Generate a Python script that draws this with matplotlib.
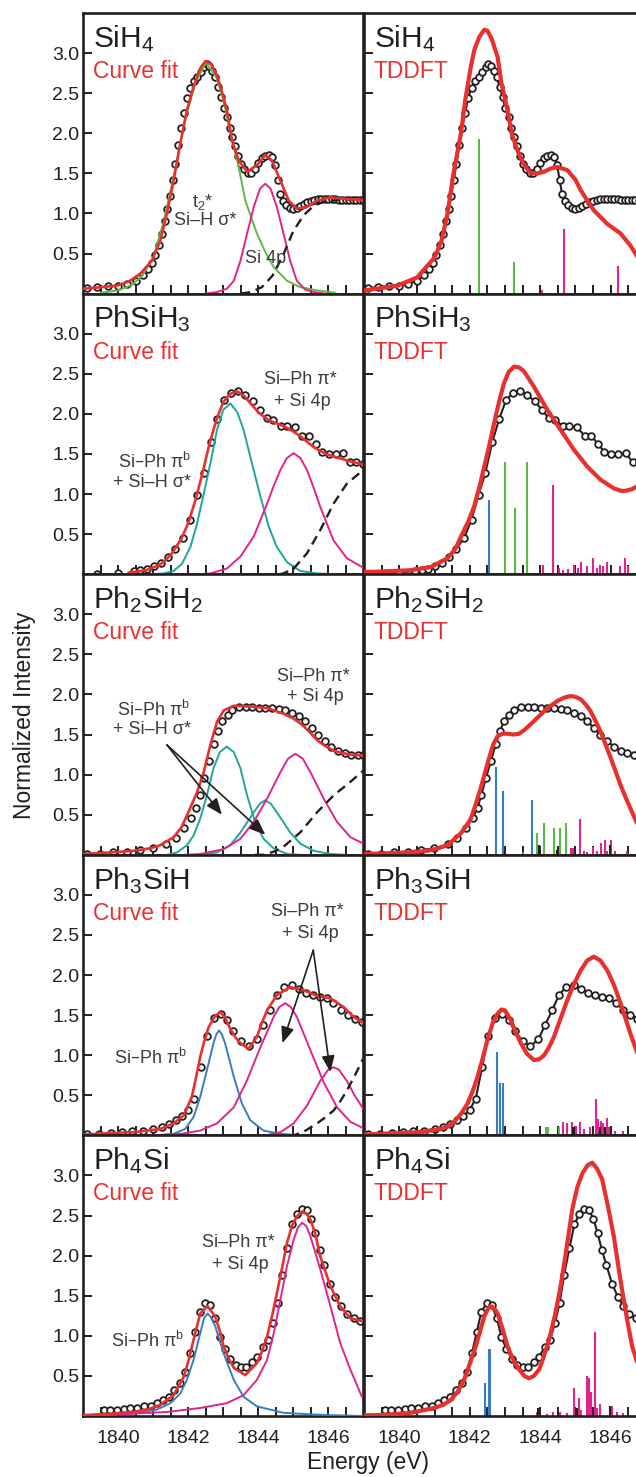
import matplotlib
matplotlib.use("Agg")
import matplotlib.pyplot as plt

plt.rcParams['font.family'] = ['Liberation Sans', 'DejaVu Sans']
plt.rcParams['mathtext.default'] = 'regular'

# ---------------- data ----------------
MOLECULES = ["SiH$_4$", "PhSiH$_3$", "Ph$_2$SiH$_2$", "Ph$_3$SiH", "Ph$_4$Si"]
X_TICKS = [1840, 1842, 1844, 1846]
Y_TICKS = [0.5, 1.0, 1.5, 2.0, 2.5, 3.0]

# experimental spectra (open circles)
SIH4_EXP_E = [1839.1, 1839.4, 1839.7, 1840.0, 1840.25, 1840.5, 1840.7, 1840.85, 1840.95, 1841.05,
              1841.15, 1841.25, 1841.33, 1841.40, 1841.47, 1841.55, 1841.62, 1841.70, 1841.78, 1841.87,
              1841.95, 1842.05, 1842.15, 1842.25, 1842.35, 1842.45, 1842.52, 1842.60, 1842.68, 1842.76,
              1842.85, 1842.93, 1843.01, 1843.10, 1843.18, 1843.26, 1843.34, 1843.42, 1843.50, 1843.60,
              1843.70, 1843.80, 1843.90, 1844.00, 1844.10, 1844.20, 1844.30, 1844.40, 1844.48, 1844.55,
              1844.62, 1844.70, 1844.80, 1844.90, 1845.00, 1845.10, 1845.20, 1845.30, 1845.40, 1845.50,
              1845.60, 1845.70, 1845.80, 1845.90, 1846.00, 1846.10, 1846.20, 1846.30, 1846.40, 1846.50,
              1846.60, 1846.70, 1846.80, 1846.90, 1847.00]
SIH4_EXP_I = [0.07, 0.08, 0.09, 0.10, 0.12, 0.16, 0.23, 0.31, 0.38, 0.48,
              0.60, 0.74, 0.90, 1.06, 1.22, 1.42, 1.62, 1.85, 2.06, 2.25,
              2.44, 2.57, 2.65, 2.70, 2.77, 2.83, 2.86, 2.84, 2.78, 2.70,
              2.58, 2.45, 2.31, 2.20, 2.07, 1.95, 1.84, 1.72, 1.62, 1.55,
              1.51, 1.50, 1.55, 1.63, 1.69, 1.72, 1.73, 1.70, 1.60, 1.42,
              1.24, 1.15, 1.10, 1.07, 1.06, 1.07, 1.09, 1.12, 1.14, 1.16,
              1.17, 1.18, 1.18, 1.18, 1.18, 1.18, 1.18, 1.17, 1.17, 1.17,
              1.17, 1.17, 1.17, 1.17, 1.17]

PHSIH3_EXP_E = [1839.4, 1840.0, 1840.45, 1840.63, 1840.82, 1841.02, 1841.22, 1841.42, 1841.62, 1841.84,
                1842.05, 1842.25, 1842.44, 1842.64, 1842.83, 1843.03, 1843.22, 1843.42, 1843.63, 1843.85,
                1844.04, 1844.24, 1844.43, 1844.64, 1844.82, 1845.04, 1845.26, 1845.45, 1845.64, 1845.82,
                1846.02, 1846.22, 1846.43, 1846.62, 1846.80, 1847.0]
PHSIH3_EXP_I = [0.00, 0.02, 0.04, 0.05, 0.06, 0.10, 0.14, 0.22, 0.32, 0.45,
                0.68, 0.99, 1.26, 1.65, 1.93, 2.17, 2.26, 2.29, 2.23, 2.16,
                2.05, 1.95, 1.92, 1.85, 1.85, 1.83, 1.73, 1.73, 1.62, 1.53,
                1.50, 1.50, 1.51, 1.40, 1.40, 1.37]

PH2SIH2_EXP_E = [1839.1, 1839.48, 1839.86, 1840.24, 1840.61, 1840.99, 1841.37, 1841.65, 1841.89, 1842.08,
                 1842.22, 1842.33, 1842.46, 1842.60, 1842.74, 1842.86, 1842.97, 1843.12, 1843.26, 1843.45,
                 1843.64, 1843.82, 1844.01, 1844.20, 1844.39, 1844.58, 1844.77, 1844.96, 1845.15, 1845.34,
                 1845.52, 1845.71, 1845.90, 1846.09, 1846.28, 1846.47, 1846.66, 1846.85, 1847.0]
PH2SIH2_EXP_I = [0.01, 0.01, 0.03, 0.04, 0.06, 0.08, 0.13, 0.21, 0.33, 0.46,
                 0.58, 0.75, 0.96, 1.17, 1.38, 1.54, 1.67, 1.75, 1.81, 1.84,
                 1.84, 1.84, 1.83, 1.83, 1.83, 1.82, 1.80, 1.77, 1.73, 1.67,
                 1.58, 1.50, 1.42, 1.35, 1.30, 1.27, 1.25, 1.24, 1.24]

PH3SIH_EXP_E = [1839.1, 1839.45, 1839.8, 1840.1, 1840.4, 1840.7, 1841.0, 1841.25, 1841.45, 1841.65,
                1841.82, 1842.0, 1842.17, 1842.35, 1842.52, 1842.72, 1842.92, 1843.1, 1843.28, 1843.5,
                1843.72, 1843.95, 1844.14, 1844.34, 1844.53, 1844.73, 1844.96, 1845.15, 1845.36, 1845.56,
                1845.75, 1845.95, 1846.14, 1846.35, 1846.55, 1846.75, 1846.97]
PH3SIH_EXP_I = [0.02, 0.02, 0.03, 0.04, 0.05, 0.06, 0.08, 0.10, 0.14, 0.19,
                0.24, 0.32, 0.46, 0.85, 1.24, 1.46, 1.52, 1.44, 1.30, 1.18,
                1.11, 1.20, 1.38, 1.56, 1.75, 1.85, 1.87, 1.83, 1.78, 1.75,
                1.73, 1.71, 1.65, 1.57, 1.50, 1.45, 1.42]

PH4SI_EXP_E = [1839.58, 1839.77, 1839.96, 1840.15, 1840.34, 1840.53, 1840.72, 1840.92, 1841.10, 1841.28,
               1841.44, 1841.60, 1841.77, 1841.91, 1842.06, 1842.20, 1842.33, 1842.48, 1842.62, 1842.77,
               1842.90, 1843.04, 1843.20, 1843.35, 1843.50, 1843.66, 1843.82, 1843.97, 1844.13, 1844.28,
               1844.42, 1844.55, 1844.68, 1844.83, 1844.97, 1845.11, 1845.25, 1845.38, 1845.51, 1845.63,
               1845.75, 1845.88, 1846.04, 1846.20, 1846.36, 1846.53, 1846.72, 1846.91]
PH4SI_EXP_I = [0.07, 0.075, 0.08, 0.09, 0.10, 0.10, 0.12, 0.13, 0.16, 0.20,
               0.24, 0.32, 0.41, 0.55, 0.78, 1.05, 1.30, 1.41, 1.38, 1.22,
               0.98, 0.84, 0.71, 0.64, 0.61, 0.61, 0.67, 0.74, 0.86, 0.95,
               1.16, 1.41, 1.76, 2.10, 2.39, 2.52, 2.58, 2.57, 2.46, 2.28,
               2.07, 1.88, 1.65, 1.49, 1.37, 1.27, 1.22, 1.19]

# curve fits (left column, red)
SIH4_FIT_E = [1839.0, 1839.5, 1839.96, 1840.3, 1840.63, 1840.96, 1841.2, 1841.39, 1841.58, 1841.77,
              1841.96, 1842.15, 1842.34, 1842.49, 1842.65, 1842.82, 1842.96, 1843.1, 1843.25, 1843.44,
              1843.68, 1843.96, 1844.2, 1844.39, 1844.63, 1844.87, 1845.1, 1845.39, 1845.68, 1846.06,
              1846.5, 1847.0]
SIH4_FIT_I = [0.06, 0.08, 0.10, 0.15, 0.25, 0.41, 0.66, 1.00, 1.41, 1.87,
              2.29, 2.58, 2.81, 2.90, 2.86, 2.72, 2.52, 2.29, 1.91, 1.66,
              1.52, 1.60, 1.73, 1.66, 1.41, 1.16, 1.06, 1.08, 1.16, 1.20,
              1.18, 1.17]

PHSIH3_FIT_E = [1840.3, 1840.8, 1841.2, 1841.5, 1841.8, 1842.0, 1842.2, 1842.4, 1842.6, 1842.8,
                1843.0, 1843.2, 1843.4, 1843.6, 1843.8, 1844.0, 1844.2, 1844.4, 1844.6, 1844.8,
                1845.0, 1845.2, 1845.4, 1845.6, 1845.8, 1846.0, 1846.3, 1846.6, 1847.0]
PHSIH3_FIT_I = [0.02, 0.05, 0.12, 0.24, 0.44, 0.64, 0.92, 1.25, 1.62, 1.92,
                2.15, 2.25, 2.28, 2.22, 2.12, 2.02, 1.95, 1.90, 1.87, 1.83,
                1.78, 1.72, 1.65, 1.58, 1.53, 1.49, 1.45, 1.41, 1.37]

PH2SIH2_FIT_E = [1839.0, 1839.8, 1840.44, 1840.9, 1841.2, 1841.58, 1841.8, 1841.96, 1842.1, 1842.25,
                 1842.44, 1842.63, 1842.82, 1843.01, 1843.3, 1843.77, 1844.25, 1844.72, 1845.0, 1845.2,
                 1845.45, 1845.68, 1845.9, 1846.15, 1846.4, 1846.63, 1847.0]
PH2SIH2_FIT_I = [0.01, 0.03, 0.05, 0.08, 0.12, 0.22, 0.34, 0.49, 0.63, 0.78,
                 1.03, 1.37, 1.66, 1.80, 1.86, 1.85, 1.83, 1.76, 1.70, 1.64,
                 1.54, 1.43, 1.36, 1.30, 1.27, 1.25, 1.24]

PH3SIH_FIT_E = [1839.0, 1839.8, 1840.44, 1841.2, 1841.58, 1841.87, 1842.1, 1842.22, 1842.34, 1842.46,
                1842.58, 1842.75, 1842.91, 1843.05, 1843.2, 1843.35, 1843.49, 1843.72, 1843.96, 1844.1,
                1844.25, 1844.53, 1844.91, 1845.3, 1845.68, 1846.06, 1846.44, 1846.72, 1847.0]
PH3SIH_FIT_I = [0.01, 0.03, 0.04, 0.08, 0.15, 0.25, 0.48, 0.72, 0.98, 1.18,
                1.35, 1.48, 1.54, 1.47, 1.33, 1.22, 1.15, 1.08, 1.23, 1.40,
                1.56, 1.75, 1.85, 1.81, 1.74, 1.71, 1.60, 1.48, 1.40]

PH4SI_FIT_E = [1839.0, 1839.8, 1840.44, 1840.9, 1841.2, 1841.58, 1841.87, 1842.0, 1842.15, 1842.34,
               1842.55, 1842.77, 1842.9, 1843.01, 1843.15, 1843.3, 1843.63, 1843.96, 1844.1, 1844.25,
               1844.4, 1844.53, 1844.68, 1844.82, 1844.96, 1845.1, 1845.25, 1845.38, 1845.49, 1845.63,
               1845.77, 1845.92, 1846.06, 1846.34, 1846.63, 1847.0]
PH4SI_FIT_I = [0.01, 0.03, 0.05, 0.09, 0.14, 0.26, 0.49, 0.68, 0.95, 1.28,
               1.37, 1.24, 1.06, 0.87, 0.72, 0.60, 0.51, 0.66, 0.80, 0.99,
               1.26, 1.53, 1.85, 2.16, 2.37, 2.49, 2.55, 2.52, 2.45, 2.27,
               1.99, 1.80, 1.62, 1.37, 1.22, 1.18]

# fit components
SIH4_GREEN_E = [1839.5, 1840.0, 1840.4, 1840.7, 1841.0, 1841.3, 1841.6, 1841.9, 1842.2, 1842.5,
                1842.8, 1843.0, 1843.25, 1843.44, 1843.63, 1843.96, 1844.2, 1844.44, 1844.82, 1845.2,
                1845.68, 1846.2]
SIH4_GREEN_I = [0.01, 0.04, 0.11, 0.23, 0.45, 0.90, 1.50, 2.15, 2.63, 2.88,
                2.70, 2.42, 1.91, 1.58, 1.16, 0.75, 0.52, 0.33, 0.16, 0.08,
                0.04, 0.01]
SIH4_MAG_E = [1842.5, 1842.82, 1843.1, 1843.3, 1843.49, 1843.68, 1843.87, 1844.05, 1844.2, 1844.35,
              1844.53, 1844.72, 1844.91, 1845.1, 1845.34, 1845.58, 1845.9]
SIH4_MAG_I = [0.0, 0.02, 0.06, 0.16, 0.41, 0.75, 1.08, 1.31, 1.37, 1.31,
              1.08, 0.75, 0.41, 0.16, 0.05, 0.02, 0.0]
SIH4_STEP_E = [1843.5, 1843.8, 1844.1, 1844.4, 1844.7, 1845.0, 1845.3, 1845.6, 1845.9, 1846.3, 1847.0]
SIH4_STEP_I = [0.0, 0.02, 0.08, 0.22, 0.47, 0.78, 0.98, 1.10, 1.15, 1.17, 1.18]

PHSIH3_TEAL_E = [1841.0, 1841.3, 1841.58, 1841.82, 1842.06, 1842.25, 1842.44, 1842.63, 1842.82, 1843.0,
                 1843.2, 1843.4, 1843.58, 1843.82, 1844.06, 1844.3, 1844.53, 1844.82, 1845.2, 1845.68, 1846.2]
PHSIH3_TEAL_I = [0.0, 0.01, 0.04, 0.13, 0.34, 0.63, 1.00, 1.38, 1.80, 2.05,
                 2.13, 2.02, 1.80, 1.38, 0.97, 0.59, 0.34, 0.15, 0.04, 0.01, 0.0]
PHSIH3_MAG_E = [1842.3, 1842.63, 1843.1, 1843.49, 1843.87, 1844.25, 1844.44, 1844.63, 1844.82, 1845.01,
                1845.2, 1845.39, 1845.58, 1845.77, 1846.15, 1846.53, 1847.0]
PHSIH3_MAG_I = [0.0, 0.01, 0.07, 0.22, 0.47, 0.88, 1.10, 1.30, 1.45, 1.51,
                1.45, 1.30, 1.08, 0.84, 0.42, 0.20, 0.08]
PHSIH3_STEP_E = [1844.6, 1844.72, 1845.01, 1845.39, 1845.77, 1846.15, 1846.53, 1847.0]
PHSIH3_STEP_I = [0.0, 0.01, 0.07, 0.26, 0.55, 0.88, 1.13, 1.30]

PH2SIH2_TEAL1_E = [1841.4, 1841.68, 1841.96, 1842.15, 1842.34, 1842.53, 1842.72, 1842.9, 1843.1, 1843.3,
                   1843.49, 1843.68, 1843.91, 1844.15, 1844.44, 1844.82, 1845.2]
PH2SIH2_TEAL1_I = [0.0, 0.03, 0.12, 0.24, 0.45, 0.74, 1.08, 1.28, 1.35, 1.28,
                   1.08, 0.74, 0.41, 0.20, 0.08, 0.01, 0.0]
PH2SIH2_TEAL2_E = [1842.4, 1842.82, 1843.2, 1843.49, 1843.87, 1844.05, 1844.2, 1844.35, 1844.53, 1844.91,
                   1845.2, 1845.58, 1846.06, 1846.5]
PH2SIH2_TEAL2_I = [0.0, 0.03, 0.12, 0.28, 0.53, 0.64, 0.68, 0.64, 0.53, 0.28,
                   0.14, 0.05, 0.01, 0.0]
PH2SIH2_MAG_E = [1841.9, 1842.34, 1843.01, 1843.49, 1843.87, 1844.25, 1844.63, 1844.85, 1845.06, 1845.27,
                 1845.49, 1845.87, 1846.25, 1846.63, 1847.0]
PH2SIH2_MAG_I = [0.0, 0.01, 0.07, 0.20, 0.41, 0.70, 1.03, 1.20, 1.26, 1.20,
                 1.03, 0.70, 0.41, 0.22, 0.14]
PH2SIH2_STEP_E = [1843.9, 1844.15, 1844.45, 1844.72, 1845.2, 1845.68, 1846.15, 1846.63, 1847.0]
PH2SIH2_STEP_I = [0.0, 0.0, 0.04, 0.10, 0.28, 0.53, 0.74, 0.91, 1.05]

PH3SIH_BLUE_E = [1841.0, 1841.58, 1841.91, 1842.15, 1842.34, 1842.53, 1842.72, 1842.8, 1842.88, 1842.96,
                 1843.05, 1843.3, 1843.53, 1843.77, 1844.15, 1844.63, 1845.2]
PH3SIH_BLUE_I = [0.0, 0.02, 0.08, 0.23, 0.48, 0.81, 1.15, 1.26, 1.31, 1.26,
                 1.15, 0.73, 0.40, 0.19, 0.06, 0.02, 0.0]
PH3SIH_MAG1_E = [1841.0, 1841.8, 1842.34, 1842.82, 1843.3, 1843.68, 1844.06, 1844.44, 1844.6, 1844.77,
                 1844.93, 1845.1, 1845.49, 1845.87, 1846.25, 1846.63, 1847.0]
PH3SIH_MAG1_I = [0.0, 0.02, 0.06, 0.15, 0.35, 0.69, 1.10, 1.48, 1.60, 1.65,
                 1.60, 1.48, 1.06, 0.66, 0.35, 0.17, 0.09]
PH3SIH_MAG2_E = [1844.2, 1844.63, 1845.01, 1845.39, 1845.77, 1846.0, 1846.15, 1846.3, 1846.53, 1846.75, 1847.0]
PH3SIH_MAG2_I = [0.0, 0.04, 0.15, 0.37, 0.68, 0.82, 0.85, 0.82, 0.68, 0.50, 0.33]
PH3SIH_STEP_E = [1844.9, 1845.01, 1845.35, 1845.68, 1845.9, 1846.15, 1846.35, 1846.53, 1846.75, 1847.0]
PH3SIH_STEP_I = [0.0, 0.0, 0.06, 0.15, 0.22, 0.31, 0.43, 0.56, 0.74, 0.96]

PH4SI_BLUE_E = [1839.0, 1839.49, 1840.44, 1841.1, 1841.49, 1841.77, 1841.96, 1842.15, 1842.34, 1842.45,
                1842.55, 1842.65, 1842.77, 1843.01, 1843.3, 1843.58, 1843.96, 1844.72, 1845.5, 1846.15, 1847.0]
PH4SI_BLUE_I = [0.0, 0.01, 0.03, 0.08, 0.16, 0.28, 0.45, 0.70, 1.03, 1.22,
                1.28, 1.23, 1.12, 0.78, 0.45, 0.24, 0.12, 0.04, 0.02, 0.01, 0.0]
PH4SI_MAG_E = [1839.0, 1840.44, 1841.39, 1842.34, 1843.1, 1843.58, 1843.96, 1844.25, 1844.44, 1844.63,
               1844.82, 1845.01, 1845.13, 1845.25, 1845.37, 1845.49, 1845.77, 1846.06, 1846.34, 1846.63, 1846.96]
PH4SI_MAG_I = [0.01, 0.03, 0.05, 0.10, 0.16, 0.26, 0.45, 0.70, 1.03, 1.45,
               1.87, 2.20, 2.35, 2.41, 2.37, 2.24, 1.83, 1.37, 0.91, 0.58, 0.24]

# TDDFT spectra (right column, red)
SIH4_TD_E = [1839.0, 1839.5, 1839.95, 1840.5, 1841.0, 1841.2, 1841.37, 1841.53, 1841.75, 1841.87,
             1842.03, 1842.13, 1842.27, 1842.41, 1842.5, 1842.62, 1842.79, 1842.9, 1843.07, 1843.19,
             1843.35, 1843.52, 1843.73, 1843.92, 1844.11, 1844.3, 1844.49, 1844.77, 1845.0, 1845.15,
             1845.35, 1845.52, 1845.9, 1846.28, 1846.56, 1846.73, 1847.0]
SIH4_TD_I = [0.04, 0.07, 0.10, 0.20, 0.45, 0.66, 1.00, 1.48, 2.00, 2.41,
             2.83, 3.04, 3.20, 3.29, 3.28, 3.18, 2.95, 2.62, 2.29, 2.00,
             1.79, 1.62, 1.50, 1.50, 1.52, 1.56, 1.58, 1.54, 1.42, 1.29,
             1.15, 1.04, 0.87, 0.75, 0.60, 0.48, 0.30]

PHSIH3_TD_E = [1839.0, 1839.29, 1839.8, 1840.33, 1840.9, 1841.37, 1841.6, 1841.75, 1841.95, 1842.12,
               1842.27, 1842.41, 1842.55, 1842.69, 1842.83, 1842.97, 1843.1, 1843.26, 1843.4, 1843.54,
               1843.82, 1844.2, 1844.58, 1844.96, 1845.34, 1845.71, 1846.09, 1846.3, 1846.42, 1846.6,
               1846.73, 1847.0]
PHSIH3_TD_I = [0.03, 0.03, 0.04, 0.05, 0.09, 0.20, 0.32, 0.47, 0.65, 0.84,
               1.08, 1.34, 1.60, 1.88, 2.15, 2.38, 2.52, 2.59, 2.58, 2.53,
               2.34, 2.05, 1.80, 1.55, 1.34, 1.18, 1.07, 1.04, 1.04, 1.06,
               1.09, 1.20]

PH2SIH2_TD_E = [1839.0, 1839.67, 1840.3, 1840.8, 1841.1, 1841.37, 1841.6, 1841.75, 1841.9, 1842.03,
                1842.17, 1842.31, 1842.43, 1842.55, 1842.67, 1842.79, 1842.93, 1843.07, 1843.25, 1843.4,
                1843.56, 1843.73, 1843.92, 1844.11, 1844.3, 1844.49, 1844.68, 1844.86, 1845.0, 1845.15,
                1845.3, 1845.43, 1845.57, 1845.71, 1845.85, 1846.0, 1846.14, 1846.28, 1846.42, 1846.56,
                1846.73, 1847.0]
PH2SIH2_TD_I = [0.01, 0.02, 0.03, 0.05, 0.08, 0.12, 0.21, 0.27, 0.36, 0.45,
                0.63, 0.83, 1.02, 1.21, 1.38, 1.48, 1.51, 1.51, 1.50, 1.51,
                1.56, 1.63, 1.71, 1.79, 1.86, 1.92, 1.96, 1.98, 1.97, 1.94,
                1.87, 1.79, 1.67, 1.54, 1.38, 1.21, 1.04, 0.87, 0.72, 0.58,
                0.41, 0.25]

PH3SIH_TD_E = [1839.0, 1839.48, 1840.0, 1840.61, 1841.18, 1841.4, 1841.56, 1841.75, 1841.94, 1842.08,
               1842.22, 1842.36, 1842.5, 1842.65, 1842.79, 1842.9, 1843.0, 1843.16, 1843.3, 1843.45,
               1843.62, 1843.82, 1843.97, 1844.11, 1844.25, 1844.39, 1844.58, 1844.77, 1844.96, 1845.15,
               1845.33, 1845.52, 1845.71, 1845.9, 1846.09, 1846.28, 1846.42, 1846.56, 1846.73, 1847.0]
PH3SIH_TD_I = [0.01, 0.02, 0.03, 0.04, 0.08, 0.12, 0.17, 0.27, 0.40, 0.55,
               0.73, 0.95, 1.19, 1.40, 1.52, 1.57, 1.56, 1.44, 1.29, 1.15,
               1.02, 0.94, 0.95, 1.00, 1.10, 1.23, 1.46, 1.69, 1.89, 2.06,
               2.18, 2.23, 2.18, 2.06, 1.88, 1.65, 1.46, 1.27, 1.06, 0.75]

PH4SI_TD_E = [1839.0, 1839.29, 1839.8, 1840.33, 1840.99, 1841.25, 1841.46, 1841.65, 1841.84, 1842.0,
              1842.17, 1842.3, 1842.41, 1842.52, 1842.6, 1842.7, 1842.79, 1842.93, 1843.07, 1843.23,
              1843.4, 1843.55, 1843.68, 1843.82, 1843.97, 1844.1, 1844.25, 1844.42, 1844.58, 1844.75,
              1844.91, 1845.05, 1845.2, 1845.35, 1845.48, 1845.62, 1845.76, 1845.92, 1846.09, 1846.23,
              1846.37, 1846.5, 1846.61, 1846.73, 1847.0]
PH4SI_TD_I = [0.01, 0.01, 0.02, 0.04, 0.10, 0.14, 0.20, 0.30, 0.45, 0.65,
              0.87, 1.07, 1.24, 1.34, 1.37, 1.34, 1.28, 1.09, 0.87, 0.70,
              0.58, 0.50, 0.47, 0.50, 0.58, 0.74, 0.95, 1.26, 1.62, 2.10,
              2.58, 2.85, 3.03, 3.13, 3.16, 3.08, 2.95, 2.62, 2.24, 1.83,
              1.45, 1.12, 0.87, 0.70, 0.40]

# TDDFT transitions (sticks)
SIH4_STK_GREEN_E = [1842.27, 1843.25]
SIH4_STK_GREEN_H = [1.93, 0.40]
SIH4_STK_MAG_E = [1844.04, 1844.68, 1846.22]
SIH4_STK_MAG_H = [0.04, 0.81, 0.34]

PHSIH3_STK_BLUE_E = [1842.55]
PHSIH3_STK_BLUE_H = [0.93]
PHSIH3_STK_GREEN_E = [1843.00, 1843.28, 1843.62]
PHSIH3_STK_GREEN_H = [1.40, 0.82, 1.40]
PHSIH3_STK_MAG_E = [1844.07, 1844.35, 1844.54, 1844.65, 1844.80, 1844.97, 1845.08, 1845.15, 1845.32,
                    1845.51, 1845.60, 1845.70, 1845.79, 1845.89, 1846.27, 1846.41, 1846.50]
PHSIH3_STK_MAG_H = [0.11, 1.11, 0.08, 0.05, 0.07, 0.12, 0.08, 0.15, 0.10,
                    0.20, 0.08, 0.12, 0.10, 0.15, 0.10, 0.20, 0.10]

PH2SIH2_STK_BLUE_E = [1842.74, 1842.93, 1843.52, 1843.77]
PH2SIH2_STK_BLUE_H = [1.10, 0.80, 0.04, 0.68]
PH2SIH2_STK_GREEN_E = [1843.90, 1844.11, 1844.40, 1844.56, 1844.73]
PH2SIH2_STK_GREEN_H = [0.27, 0.40, 0.33, 0.33, 0.40]
PH2SIH2_STK_BLACK_E = [1843.97, 1844.47, 1845.97]
PH2SIH2_STK_BLACK_H = [0.12, 0.06, 0.12]
PH2SIH2_STK_MAG_E = [1844.86, 1844.94, 1845.13, 1845.24, 1845.32, 1845.51, 1845.62, 1845.72, 1845.84,
                     1845.90, 1846.00, 1846.12, 1846.45]
PH2SIH2_STK_MAG_H = [0.08, 0.09, 0.45, 0.05, 0.03, 0.10, 0.05, 0.15, 0.18,
                     0.05, 0.18, 0.05, 0.05]

PH3SIH_STK_BLUE_E = [1842.78, 1842.86, 1842.93]
PH3SIH_STK_BLUE_H = [1.04, 0.65, 0.65]
PH3SIH_STK_GREEN_E = [1844.16, 1844.23, 1844.54]
PH3SIH_STK_GREEN_H = [0.10, 0.10, 0.10]
PH3SIH_STK_BLACK_E = [1844.94, 1845.70, 1845.84]
PH3SIH_STK_BLACK_H = [0.10, 0.10, 0.10]
PH3SIH_STK_MAG_E = [1844.65, 1844.75, 1844.89, 1845.01, 1845.13, 1845.24, 1845.41, 1845.58, 1845.65,
                    1845.72, 1845.79, 1845.90, 1845.96, 1846.12, 1846.36]
PH3SIH_STK_MAG_H = [0.17, 0.15, 0.17, 0.12, 0.17, 0.08, 0.10, 0.46, 0.20,
                    0.18, 0.15, 0.22, 0.10, 0.05, 0.05]

PH4SI_STK_BLUE_E = [1842.43, 1842.54, 1842.57]
PH4SI_STK_BLUE_H = [0.41, 0.83, 0.83]
PH4SI_STK_BLACK_E = [1843.94, 1845.05, 1845.98]
PH4SI_STK_BLACK_H = [0.10, 0.10, 0.12]
PH4SI_STK_MAG_E = [1843.90, 1844.18, 1844.37, 1844.56, 1844.75, 1844.97, 1845.10, 1845.17, 1845.34,
                   1845.39, 1845.43, 1845.56, 1845.62, 1845.70, 1846.03, 1846.17, 1846.36]
PH4SI_STK_MAG_H = [0.05, 0.03, 0.05, 0.05, 0.04, 0.35, 0.22, 0.08, 0.50,
                   0.48, 0.30, 1.05, 0.10, 0.15, 0.12, 0.05, 0.04]

# ---------------- style ----------------
RED = '#e8312f'
GREEN = '#5cb848'
MAGENTA = '#e0248c'
TEAL = '#1fa699'
BLUE = '#3a7cc2'
DARK = '#231f20'
GRAY = '#3c3c3c'

W, H = 636, 1477
fig = plt.figure(figsize=(W / 100, H / 100), dpi=100)

TOP = 13.0
PH = 280.6
LX0, LW = 83.3, 280.0
RX0, RW = 364.1, 281.8
MINOR_X = [1839.5 + 0.5 * i for i in range(15)]


def make_ax(x0, w, k):
    bottom_px = TOP + (k + 1) * PH
    ax = fig.add_axes([x0 / W, 1 - bottom_px / H, w / W, PH / H])
    ax.set_xlim(1839, 1847)
    ax.set_ylim(0, 3.5)
    for s in ax.spines.values():
        s.set_linewidth(1.9)
        s.set_color(DARK)
    ax.set_xticks(MINOR_X)
    ax.set_xticklabels([])
    ax.set_yticks(Y_TICKS)
    ax.tick_params(axis='both', direction='in', length=6.5, width=1.4, color=DARK,
                   labelsize=14, labelcolor=DARK)
    ax.tick_params(axis='x', pad=10)
    ax.tick_params(axis='y', pad=3)
    return ax


def stick(ax, E, Hh, color):
    ax.vlines(E, 0, Hh, colors=color, linewidth=1.5, zorder=2)


exp_E = [SIH4_EXP_E, PHSIH3_EXP_E, PH2SIH2_EXP_E, PH3SIH_EXP_E, PH4SI_EXP_E]
exp_I = [SIH4_EXP_I, PHSIH3_EXP_I, PH2SIH2_EXP_I, PH3SIH_EXP_I, PH4SI_EXP_I]
fit_E = [SIH4_FIT_E, PHSIH3_FIT_E, PH2SIH2_FIT_E, PH3SIH_FIT_E, PH4SI_FIT_E]
fit_I = [SIH4_FIT_I, PHSIH3_FIT_I, PH2SIH2_FIT_I, PH3SIH_FIT_I, PH4SI_FIT_I]
td_E = [SIH4_TD_E, PHSIH3_TD_E, PH2SIH2_TD_E, PH3SIH_TD_E, PH4SI_TD_E]
td_I = [SIH4_TD_I, PHSIH3_TD_I, PH2SIH2_TD_I, PH3SIH_TD_I, PH4SI_TD_I]

components = [
    [(SIH4_GREEN_E, SIH4_GREEN_I, GREEN, '-'), (SIH4_MAG_E, SIH4_MAG_I, MAGENTA, '-'),
     (SIH4_STEP_E, SIH4_STEP_I, DARK, '--')],
    [(PHSIH3_TEAL_E, PHSIH3_TEAL_I, TEAL, '-'), (PHSIH3_MAG_E, PHSIH3_MAG_I, MAGENTA, '-'),
     (PHSIH3_STEP_E, PHSIH3_STEP_I, DARK, '--')],
    [(PH2SIH2_TEAL1_E, PH2SIH2_TEAL1_I, TEAL, '-'), (PH2SIH2_TEAL2_E, PH2SIH2_TEAL2_I, TEAL, '-'),
     (PH2SIH2_MAG_E, PH2SIH2_MAG_I, MAGENTA, '-'), (PH2SIH2_STEP_E, PH2SIH2_STEP_I, DARK, '--')],
    [(PH3SIH_BLUE_E, PH3SIH_BLUE_I, BLUE, '-'), (PH3SIH_MAG1_E, PH3SIH_MAG1_I, MAGENTA, '-'),
     (PH3SIH_MAG2_E, PH3SIH_MAG2_I, MAGENTA, '-'), (PH3SIH_STEP_E, PH3SIH_STEP_I, DARK, '--')],
    [(PH4SI_BLUE_E, PH4SI_BLUE_I, BLUE, '-'), (PH4SI_MAG_E, PH4SI_MAG_I, MAGENTA, '-')],
]

sticks = [
    [(SIH4_STK_GREEN_E, SIH4_STK_GREEN_H, GREEN), (SIH4_STK_MAG_E, SIH4_STK_MAG_H, MAGENTA)],
    [(PHSIH3_STK_BLUE_E, PHSIH3_STK_BLUE_H, BLUE), (PHSIH3_STK_GREEN_E, PHSIH3_STK_GREEN_H, GREEN),
     (PHSIH3_STK_MAG_E, PHSIH3_STK_MAG_H, MAGENTA)],
    [(PH2SIH2_STK_BLUE_E, PH2SIH2_STK_BLUE_H, BLUE), (PH2SIH2_STK_GREEN_E, PH2SIH2_STK_GREEN_H, GREEN),
     (PH2SIH2_STK_MAG_E, PH2SIH2_STK_MAG_H, MAGENTA), (PH2SIH2_STK_BLACK_E, PH2SIH2_STK_BLACK_H, DARK)],
    [(PH3SIH_STK_BLUE_E, PH3SIH_STK_BLUE_H, BLUE), (PH3SIH_STK_GREEN_E, PH3SIH_STK_GREEN_H, GREEN),
     (PH3SIH_STK_MAG_E, PH3SIH_STK_MAG_H, MAGENTA), (PH3SIH_STK_BLACK_E, PH3SIH_STK_BLACK_H, DARK)],
    [(PH4SI_STK_BLUE_E, PH4SI_STK_BLUE_H, BLUE), (PH4SI_STK_MAG_E, PH4SI_STK_MAG_H, MAGENTA),
     (PH4SI_STK_BLACK_E, PH4SI_STK_BLACK_H, DARK)],
]

left_axes, right_axes = [], []
for k in range(5):
    axl = make_ax(LX0, LW, k)
    axr = make_ax(RX0, RW, k)
    axr.set_yticklabels([])
    left_axes.append(axl)
    right_axes.append(axr)

    # left: curve fit
    axl.plot(exp_E[k], exp_I[k], 'o', ms=4.8, mfc='white', mec=DARK, mew=1.3, zorder=2)
    for E, I, c, ls in components[k]:
        if ls == '--':
            axl.plot(E, I, color=c, lw=1.7, ls=(0, (4, 2.5)), zorder=3)
        else:
            axl.plot(E, I, color=c, lw=1.4, zorder=3)
    axl.plot(fit_E[k], fit_I[k], color=RED, lw=1.9, zorder=4)

    # right: TDDFT
    for E, Hh, c in sticks[k]:
        stick(axr, E, Hh, c)
    axr.plot(exp_E[k], exp_I[k], '-o', color=DARK, lw=1.5, ms=4.8, mfc='white', mec=DARK,
             mew=1.3, zorder=3)
    axr.plot(td_E[k], td_I[k], color=RED, lw=3.0, zorder=4)

    for ax, sub in ((axl, 'Curve fit'), (axr, 'TDDFT')):
        ax.text(0.035, 0.879, MOLECULES[k], transform=ax.transAxes, fontsize=21.5,
                color=DARK, ha='left', va='baseline', zorder=6)
        ax.text(0.035, 0.768, sub, transform=ax.transAxes, fontsize=16.5,
                color=RED, ha='left', va='baseline', zorder=6)

    if k == 4:
        for ax in (axl, axr):
            extra = [t for t in MINOR_X if t not in X_TICKS]
            ax.set_xticks(X_TICKS + extra)
            ax.set_xticklabels([str(t) for t in X_TICKS] + [''] * len(extra))

ANN = dict(fontsize=13, color=GRAY, ha='center', va='center', zorder=6)

a = left_axes[0]
a.text(1842.4, 1.14, 't$_2$*', **ANN)
a.text(1842.49, 0.91, 'Si–H σ*', **ANN)
a.text(1844.2, 0.44, 'Si 4p', **ANN)

a = left_axes[1]
a.text(1845.2, 2.43, 'Si–Ph π*', **ANN)
a.text(1845.26, 2.15, '+ Si 4p', **ANN)
a.text(1841.03, 1.40, 'Si–Ph π$^b$', **ANN)
a.text(1840.97, 1.15, '+ Si–H σ*', **ANN)

a = left_axes[2]
a.text(1845.57, 2.22, 'Si–Ph π*', **ANN)
a.text(1845.63, 1.97, '+ Si 4p', **ANN)
a.text(1841.0, 1.81, 'Si–Ph π$^b$', **ANN)
a.text(1840.97, 1.56, '+ Si–H σ*', **ANN)
ARROW = dict(arrowstyle='-|>,head_length=0.7,head_width=0.28', color=DARK, lw=1.2,
             shrinkA=0, shrinkB=0, mutation_scale=14)
a.annotate('', xy=(1842.96, 0.50), xytext=(1841.39, 1.37), arrowprops=ARROW, zorder=6)
a.annotate('', xy=(1844.2, 0.25), xytext=(1841.39, 1.37), arrowprops=ARROW, zorder=6)

a = left_axes[3]
a.text(1845.4, 2.79, 'Si–Ph π*', **ANN)
a.text(1845.49, 2.52, '+ Si 4p', **ANN)
a.text(1840.91, 0.97, 'Si–Ph π$^b$', **ANN)
a.annotate('', xy=(1844.69, 1.15), xytext=(1845.57, 2.31), arrowprops=ARROW, zorder=6)
a.annotate('', xy=(1846.06, 0.79), xytext=(1845.57, 2.31), arrowprops=ARROW, zorder=6)

a = left_axes[4]
a.text(1843.43, 2.16, 'Si–Ph π*', **ANN)
a.text(1843.49, 1.89, '+ Si 4p', **ANN)
a.text(1840.83, 0.93, 'Si–Ph π$^b$', **ANN)

fig.text(25 / W, 1 - 715 / H, 'Normalized Intensity', rotation=90, fontsize=16.5,
         color=DARK, ha='center', va='center')
fig.text(368 / W, 1 - 1463 / H, 'Energy (eV)', fontsize=16.5, color=DARK,
         ha='center', va='center')

fig.savefig('out.png', dpi=100)
